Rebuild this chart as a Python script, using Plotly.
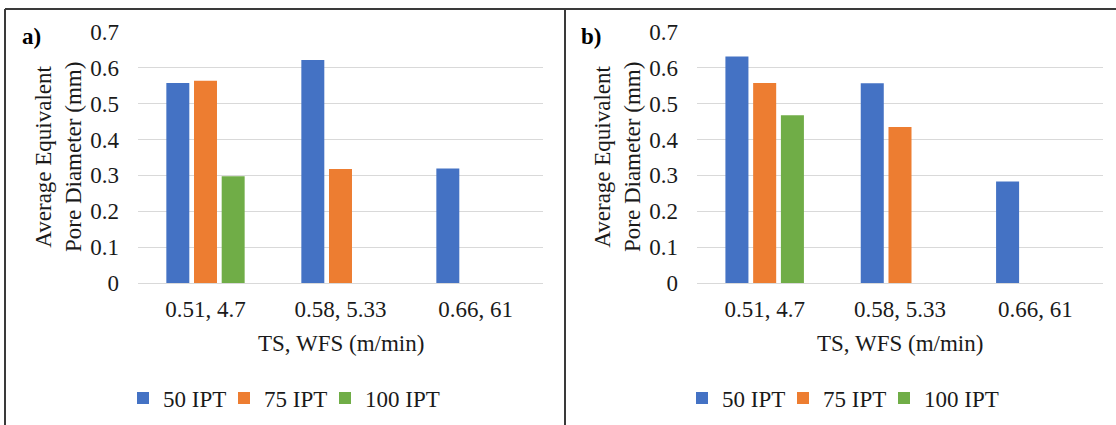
import plotly.graph_objects as go

# Process settings (travel speed, wire feed speed) and pore-size results
categories = ["0.51, 4.7", "0.58, 5.33", "0.66, 61"]
series_names = ["50 IPT", "75 IPT", "100 IPT"]
colors = ["#4472C4", "#ED7D31", "#70AD47"]

# panel a)
a_50 = [0.558, 0.622, 0.319]
a_75 = [0.564, 0.318, None]
a_100 = [0.298, None, None]

# panel b)
b_50 = [0.632, 0.557, 0.283]
b_75 = [0.558, 0.435, None]
b_100 = [0.468, None, None]

y_ticks = [0, 0.1, 0.2, 0.3, 0.4, 0.5, 0.6, 0.7]

W, H = 1116, 425
FONT = "Liberation Serif, Times New Roman, serif"
TXT = "#1a1a1a"
FS = 23


def px(x):
    return x / W


def py(y):
    return 1 - y / H


fig = go.Figure()

# each legend key gets its own legend box so the keys can be spaced freely
key_centres = {"a": [147, 248, 349], "b": [706, 807, 908]}
legends = {}
panels = [
    ("a", "x", "y", [a_50, a_75, a_100]),
    ("b", "x2", "y2", [b_50, b_75, b_100]),
]
n = 0
for tag, xa, ya, data in panels:
    for i, (name, vals, col) in enumerate(zip(series_names, data, colors)):
        n += 1
        leg = "legend" if n == 1 else f"legend{n}"
        legends[leg] = key_centres[tag][i]
        fig.add_trace(go.Bar(
            x=categories, y=vals, name=name, marker_color=col,
            marker_line_width=0, xaxis=xa, yaxis=ya, legend=leg,
            showlegend=True,
        ))

axis_common = dict(
    showline=False, ticks="", automargin=False,
    tickfont=dict(family=FONT, size=FS, color=TXT),
)
y_common = dict(
    range=[0, 0.7], tickvals=y_ticks, ticktext=[f"{v:g}" for v in y_ticks],
    showgrid=True, gridcolor="#d9d9d9", gridwidth=1.3,
    zeroline=True, zerolinecolor="#d9d9d9", zerolinewidth=1.3,
    ticklabelstandoff=18, **axis_common,
)
x_common = dict(type="category", showgrid=False, ticklabelstandoff=10,
                **axis_common)

ydom = [py(283), py(32)]
fig.update_layout(
    xaxis=dict(domain=[px(138), px(543)], anchor="y", **x_common),
    yaxis=dict(domain=ydom, anchor="x", **y_common),
    xaxis2=dict(domain=[px(697), px(1103)], anchor="y2", **x_common),
    yaxis2=dict(domain=ydom, anchor="x2", **y_common),
)

for leg, centre in legends.items():
    fig.update_layout({leg: dict(
        xref="container", yref="container",
        x=px(centre - 24), y=py(398), xanchor="left", yanchor="middle",
        orientation="h", itemwidth=30, bgcolor="rgba(0,0,0,0)",
        font=dict(family=FONT, size=FS, color=TXT), visible=True,
    )})

annotations = []
for label, lx, plot_l, plot_r in [("a)", 31, 138, 543), ("b)", 591, 697, 1103)]:
    annotations.append(dict(
        text=f"<b>{label}</b>", x=px(lx), y=py(37), xref="paper", yref="paper",
        showarrow=False, font=dict(family=FONT, size=FS, color="#000"),
        xanchor="center", yanchor="middle",
    ))
    annotations.append(dict(
        text="Average Equivalent<br>Pore Diameter (mm)",
        x=px(plot_l - 80), y=py(157), xref="paper", yref="paper",
        textangle=-90, showarrow=False, align="center",
        font=dict(family=FONT, size=FS, color=TXT),
        xanchor="center", yanchor="middle",
    ))
    annotations.append(dict(
        text="TS, WFS (m/min)", x=px((plot_l + plot_r) / 2), y=py(343),
        xref="paper", yref="paper", showarrow=False,
        font=dict(family=FONT, size=FS, color=TXT),
        xanchor="center", yanchor="middle",
    ))

# frame around the two panels
frame = dict(type="line", xref="paper", yref="paper",
             line=dict(color="#3a3a3a", width=2))
shapes = [
    dict(x0=px(5), x1=1, y0=py(9), y1=py(9), **frame),
    dict(x0=px(5), x1=px(5), y0=py(9), y1=0, **frame),
    dict(x0=px(565), x1=px(565), y0=py(9), y1=0, **frame),
]

fig.update_layout(
    width=W, height=H, autosize=False, showlegend=True,
    margin=dict(l=0, r=0, t=0, b=0, autoexpand=False),
    paper_bgcolor="white", plot_bgcolor="white",
    barmode="group", bargap=0.385, bargroupgap=0.17,
    annotations=annotations, shapes=shapes,
)

fig.write_html("out.html")
